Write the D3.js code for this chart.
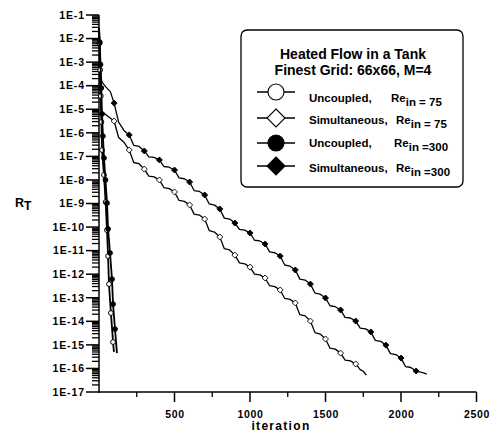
<!DOCTYPE html>
<html>
<head>
<meta charset="utf-8">
<script src="https://cdn.jsdelivr.net/npm/d3@7"></script>
<style>
  body { margin: 0; background: #fff; }
  svg { display: block; }
  text { font-family: "Liberation Sans", Arial, sans-serif; font-weight: bold; fill: #000; }
</style>
</head>
<body>
<div id="chart"></div>
<script>
// residual values are stored as log10(R_T)
const uncoupled75Iter = [0, 4, 8, 12, 16, 20, 33, 44, 53, 60, 66, 79, 93, 99];
const uncoupled75Log = [-1.55, -2.2, -3.33, -4.44, -5.54, -6.73, -7.79, -8.94, -10.13, -11.23, -12.42, -13.65, -14.88, -15.30];

const uncoupled300Iter = [0, 5, 10, 15, 20, 26, 33, 43, 53, 60, 73, 86, 93, 106, 119];
const uncoupled300Log = [-1.55, -2.15, -3.1, -4.1, -5.2, -6.14, -7.07, -8.0, -8.98, -10.08, -11.10, -12.21, -13.27, -14.33, -15.35];

const simul75Iter = [0, 4, 9, 15, 50, 100, 130, 165, 200, 230, 265, 300, 330, 365, 400, 430, 465, 500,
  530, 565, 600, 630, 665, 700, 730, 765, 800, 830, 865, 900, 930, 965, 1000, 1030, 1065, 1100,
  1130, 1165, 1200, 1230, 1265, 1300, 1330, 1365, 1400, 1430, 1465, 1500, 1530, 1565, 1600,
  1630, 1665, 1700, 1730, 1750, 1770];
const simul75Log = [-1.55, -3.0, -4.6, -5.1, -5.25, -5.50, -6.20, -6.40, -6.73, -7.26, -7.31, -7.54, -7.84, -7.87, -8.00, -8.33, -8.37, -8.51,
  -8.87, -8.91, -9.06, -9.45, -9.49, -9.66, -10.15, -10.21, -10.42, -10.92, -10.97, -11.19, -11.52, -11.56, -11.70, -12.00, -12.03, -12.16,
  -12.49, -12.53, -12.67, -13.03, -13.07, -13.22, -13.72, -13.77, -13.99, -14.48, -14.54, -14.75, -15.14, -15.18, -15.35,
  -15.65, -15.68, -15.81, -16.05, -16.12, -16.28];

const simul300Iter = [0, 5, 12, 20, 45, 75, 100, 130, 165, 200, 230, 265, 300, 330, 365, 400, 430, 465, 500,
  530, 565, 600, 630, 665, 700, 730, 765, 800, 830, 865, 900, 930, 965, 1000, 1030, 1065, 1100,
  1130, 1165, 1200, 1230, 1265, 1300, 1330, 1365, 1400, 1430, 1465, 1500, 1530, 1565, 1600,
  1630, 1665, 1700, 1730, 1765, 1800, 1830, 1865, 1900, 1930, 1965, 2000, 2030, 2065, 2100,
  2130, 2150, 2170];
const simul300Log = [-1.55, -2.6, -3.6, -3.85, -4.05, -4.25, -4.74, -5.55, -5.90, -6.09, -6.53, -6.58, -6.77, -7.02, -7.04, -7.15, -7.43, -7.46, -7.58,
  -7.91, -7.95, -8.09, -8.45, -8.49, -8.64, -9.02, -9.07, -9.23, -9.62, -9.66, -9.83, -10.10, -10.13, -10.25, -10.56, -10.59, -10.72,
  -11.05, -11.09, -11.23, -11.61, -11.66, -11.82, -12.21, -12.25, -12.42, -12.80, -12.85, -13.01, -13.34, -13.38, -13.52,
  -13.83, -13.86, -13.99, -14.29, -14.32, -14.45, -14.81, -14.85, -15.01, -15.37, -15.41, -15.56, -15.92, -15.96, -16.11,
  -16.16, -16.19, -16.24];

const yTickLabels = ["1E-1", "1E-2", "1E-3", "1E-4", "1E-5", "1E-6", "1E-7", "1E-8", "1E-9",
  "1E-10", "1E-11", "1E-12", "1E-13", "1E-14", "1E-15", "1E-16", "1E-17"];
const xMajorTicks = [500, 1000, 1500, 2000, 2500];
const xMinorTicks = [250, 750, 1250, 1750, 2250];

const legendTitle = ["Heated Flow in a Tank", "Finest Grid: 66x66, M=4"];
const legendNames = ["Uncoupled,", "Simultaneous,", "Uncoupled,", "Simultaneous,"];
const legendRe = ["in = 75", "in = 75", "in =300", "in =300"];

const width = 493, height = 441;
const x0 = 99, x1 = 476.5, y0 = 392, y1 = 15;

const svg = d3.select("#chart").append("svg")
  .attr("width", width).attr("height", height);

const x = d3.scaleLinear().domain([0, 2500]).range([x0, x1]);
const y = d3.scaleLog().domain([1e-17, 1e-1]).range([y0, y1]);

// y axis: minor ticks 2..9 per decade, major ticks each decade
const minorVals = [];
for (let e = -17; e < -1; e++) {
  for (let m = 2; m <= 9; m++) minorVals.push(m * Math.pow(10, e));
}
svg.append("g").selectAll("line").data(minorVals).enter().append("line")
  .attr("x1", x0 - 7).attr("x2", x0)
  .attr("y1", d => y(d)).attr("y2", d => y(d))
  .attr("stroke", "#000").attr("stroke-width", 1.3);

const majorVals = yTickLabels.map((t, i) => Math.pow(10, -(i + 1)));
svg.append("g").selectAll("line").data(majorVals).enter().append("line")
  .attr("x1", x0 - 13).attr("x2", x0)
  .attr("y1", d => y(d)).attr("y2", d => y(d))
  .attr("stroke", "#000").attr("stroke-width", 1.5);

svg.append("g").selectAll("text").data(majorVals).enter().append("text")
  .attr("x", x0 - 14).attr("y", d => y(d) + 3.8)
  .attr("text-anchor", "end")
  .style("font-size", "10.5px").style("letter-spacing", "0.9px")
  .text((d, i) => yTickLabels[i]);

// x axis ticks
svg.append("g").selectAll("line").data(xMajorTicks).enter().append("line")
  .attr("x1", d => x(d)).attr("x2", d => x(d))
  .attr("y1", y0).attr("y2", y0 + 10)
  .attr("stroke", "#000").attr("stroke-width", 1.5);
svg.append("g").selectAll("line").data(xMinorTicks).enter().append("line")
  .attr("x1", d => x(d)).attr("x2", d => x(d))
  .attr("y1", y0).attr("y2", y0 + 5)
  .attr("stroke", "#000").attr("stroke-width", 1.3);
svg.append("g").selectAll("text").data(xMajorTicks).enter().append("text")
  .attr("x", d => x(d) + 0.5).attr("y", y0 + 26)
  .attr("text-anchor", "middle")
  .style("font-size", "10.5px").style("letter-spacing", "0.7px")
  .text(d => d);

// axis lines
svg.append("line").attr("x1", x0).attr("x2", x0).attr("y1", y1).attr("y2", y0 + 0.75)
  .attr("stroke", "#000").attr("stroke-width", 1.5);
svg.append("line").attr("x1", x0 - 0.75).attr("x2", x1).attr("y1", y0).attr("y2", y0)
  .attr("stroke", "#000").attr("stroke-width", 1.5);

// axis titles
svg.append("text").attr("x", 281).attr("y", 430).attr("text-anchor", "middle")
  .style("font-size", "12px").style("letter-spacing", "1.3px").text("iteration");
const rt = svg.append("text").attr("x", 15).attr("y", 207).style("font-size", "12.5px");
rt.append("tspan").text("R");
rt.append("tspan").attr("dy", 3).style("font-size", "12px").text("T");

// series
const series = [
  { iter: simul75Iter, log: simul75Log, shape: "diamond", fill: "#fff", lw: 1.3, every: 100, last: 1700 },
  { iter: simul300Iter, log: simul300Log, shape: "diamond", fill: "#000", lw: 1.3, every: 100, last: 2100 },
  { iter: uncoupled75Iter, log: uncoupled75Log, shape: "circle", fill: "#fff", lw: 1.8 },
  { iter: uncoupled300Iter, log: uncoupled300Log, shape: "circle", fill: "#000", lw: 1.8 }
];

const line = d3.line().x(d => x(d[0])).y(d => y(Math.pow(10, d[1])));

series.forEach(s => {
  const pts = s.iter.map((it, i) => [it, s.log[i]]);
  svg.append("path").datum(pts)
    .attr("d", line).attr("fill", "none")
    .attr("stroke", "#000").attr("stroke-width", s.lw).attr("stroke-linejoin", "round");

  let marks;
  if (s.every) marks = pts.filter(p => p[0] > 0 && p[0] % s.every === 0 && p[0] <= s.last);
  else marks = pts.slice(1, pts.length - 1);

  if (s.shape === "circle") {
    svg.append("g").selectAll("circle").data(marks).enter().append("circle")
      .attr("cx", d => x(d[0])).attr("cy", d => y(Math.pow(10, d[1])))
      .attr("r", 2.4).attr("fill", s.fill).attr("stroke", "#000").attr("stroke-width", 1);
  } else {
    svg.append("g").selectAll("path").data(marks).enter().append("path")
      .attr("transform", d => `translate(${x(d[0])},${y(Math.pow(10, d[1]))})`)
      .attr("d", "M0,-3L3,0L0,3L-3,0Z")
      .attr("fill", s.fill).attr("stroke", "#000").attr("stroke-width", 0.9);
  }
});

// legend
const lg = svg.append("g");
lg.append("rect").attr("x", 241).attr("y", 30).attr("width", 222).attr("height", 157)
  .attr("rx", 6).attr("fill", "#fff").attr("stroke", "#000").attr("stroke-width", 1.3);
lg.selectAll("text.title").data(legendTitle).enter().append("text")
  .attr("class", "title")
  .attr("x", 353).attr("y", (d, i) => 59 + i * 15.5)
  .attr("text-anchor", "middle").style("font-size", "14px")
  .text(d => d);

const rowMarkY = [92, 118, 143, 166];
const rowTextY = [102, 124, 147, 172];
const rowReX = [391, 396, 394, 396];
const rowShape = ["circle", "diamond", "circle", "diamond"];
const rowFill = ["#fff", "#fff", "#000", "#000"];

legendNames.forEach((name, i) => {
  lg.append("line").attr("x1", 257).attr("x2", 295)
    .attr("y1", rowMarkY[i]).attr("y2", rowMarkY[i])
    .attr("stroke", "#000").attr("stroke-width", 1.3);
  if (rowShape[i] === "circle") {
    lg.append("circle").attr("cx", 276).attr("cy", rowMarkY[i]).attr("r", 8)
      .attr("fill", rowFill[i]).attr("stroke", "#000").attr("stroke-width", 1.1);
  } else {
    lg.append("path").attr("transform", `translate(276,${rowMarkY[i]})`)
      .attr("d", "M0,-9L9,0L0,9L-9,0Z")
      .attr("fill", rowFill[i]).attr("stroke", "#000").attr("stroke-width", 1.1);
  }
  lg.append("text").attr("x", 309).attr("y", rowTextY[i])
    .style("font-size", "11.5px").text(name);
  const t = lg.append("text").attr("x", rowReX[i]).attr("y", rowTextY[i]).style("font-size", "11.5px");
  t.append("tspan").text("Re");
  t.append("tspan").attr("dy", 4).text(legendRe[i]);
});
</script>
</body>
</html>
